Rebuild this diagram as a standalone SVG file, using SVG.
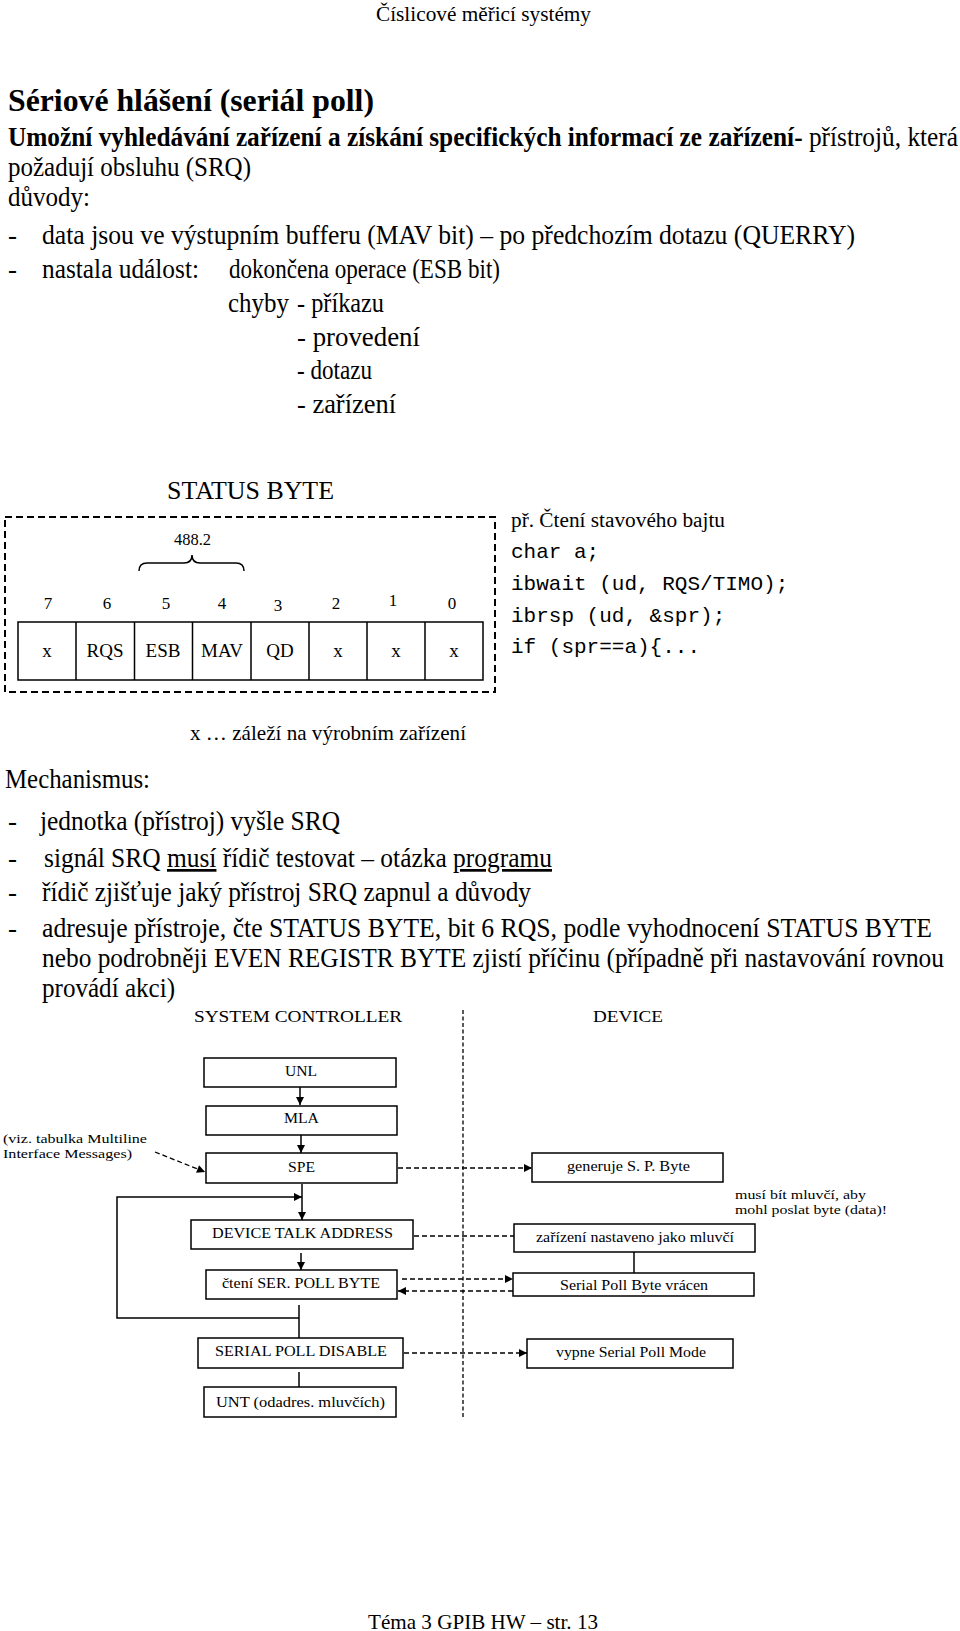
<svg xmlns="http://www.w3.org/2000/svg" width="960" height="1631" viewBox="0 0 960 1631">
<style>
  .t{font-family:"Liberation Serif","Times New Roman",serif;fill:#000}
  .b{font-size:27px}
  .code{font-family:"Liberation Mono","Courier New",monospace;font-size:21px;fill:#000}
  .box{fill:#fff;stroke:#000;stroke-width:1.5}
  .fl{font-family:"Liberation Serif","Times New Roman",serif;font-size:14.5px;fill:#000}
  .note{font-family:"Liberation Serif","Times New Roman",serif;font-size:13px;fill:#000}
  .ln{stroke:#000;stroke-width:1.5;fill:none}
  .dash{stroke:#000;stroke-width:1.3;fill:none;stroke-dasharray:5 3}
</style>
<defs>
  <marker id="ah" viewBox="0 0 10 10" refX="10" refY="5" markerWidth="9" markerHeight="8" markerUnits="userSpaceOnUse" orient="auto">
    <path d="M0,0 L10,5 L0,10 z" fill="#000"/>
  </marker>
</defs>
<rect width="960" height="1631" fill="#fff"/>

<g id="header">
  <text class="t" x="376" y="21" font-size="21" textLength="215" lengthAdjust="spacingAndGlyphs">Číslicové měřicí systémy</text>
</g>

<g id="intro">
  <text class="t" x="8" y="111" font-size="32" font-weight="bold" textLength="366" lengthAdjust="spacingAndGlyphs">Sériové hlášení (seriál poll)</text>
  <text class="t b" x="8" y="146" textLength="950" lengthAdjust="spacingAndGlyphs"><tspan font-weight="bold">Umožní vyhledávání zařízení a získání specifických informací ze zařízení-</tspan> přístrojů, která</text>
  <text class="t b" x="8" y="176" textLength="243" lengthAdjust="spacingAndGlyphs">požadují obsluhu (SRQ)</text>
  <text class="t b" x="8" y="206" textLength="82" lengthAdjust="spacingAndGlyphs">důvody:</text>
  <text class="t b" x="8" y="244">-</text>
  <text class="t b" x="42" y="244" textLength="813" lengthAdjust="spacingAndGlyphs">data jsou ve výstupním bufferu (MAV bit) – po předchozím dotazu (QUERRY)</text>
  <text class="t b" x="8" y="278">-</text>
  <text class="t b" x="42" y="278" textLength="157" lengthAdjust="spacingAndGlyphs">nastala událost:</text>
  <text class="t b" x="229" y="278" textLength="271" lengthAdjust="spacingAndGlyphs">dokončena operace (ESB bit)</text>
  <text class="t b" x="228" y="312" textLength="61" lengthAdjust="spacingAndGlyphs">chyby</text>
  <text class="t b" x="297" y="312" textLength="87" lengthAdjust="spacingAndGlyphs">- příkazu</text>
  <text class="t b" x="297" y="346" textLength="123" lengthAdjust="spacingAndGlyphs">- provedení</text>
  <text class="t b" x="297" y="379" textLength="75" lengthAdjust="spacingAndGlyphs">- dotazu</text>
  <text class="t b" x="297" y="413" textLength="99" lengthAdjust="spacingAndGlyphs">- zařízení</text>
</g>

<g id="status-byte">
  <text class="t" x="167" y="499" font-size="25" textLength="167" lengthAdjust="spacingAndGlyphs">STATUS BYTE</text>
  <rect x="5" y="517" width="490" height="175" fill="none" stroke="#000" stroke-width="2" stroke-dasharray="7 4"/>
  <text class="t" x="174" y="545" font-size="16" textLength="37" lengthAdjust="spacingAndGlyphs">488.2</text>
  <path class="ln" d="M139,571 Q139,563 147,563 L184,563 Q192,563 192,555 Q192,563 200,563 L236,563 Q244,563 244,571"/>
  <g class="t" font-size="17" text-anchor="middle">
    <text x="48" y="609">7</text>
    <text x="107" y="609">6</text>
    <text x="166" y="609">5</text>
    <text x="222" y="609">4</text>
    <text x="278" y="611">3</text>
    <text x="336" y="609">2</text>
    <text x="393" y="606">1</text>
    <text x="452" y="609">0</text>
  </g>
  <rect x="18" y="622" width="465" height="58" fill="none" stroke="#000" stroke-width="1.5"/>
  <path class="ln" d="M76,622V680M134.5,622V680M192.5,622V680M251,622V680M309,622V680M367,622V680M425,622V680"/>
  <g class="t" font-size="19" text-anchor="middle">
    <text x="47" y="657">x</text>
    <text x="105" y="657">RQS</text>
    <text x="163" y="657">ESB</text>
    <text x="222" y="657">MAV</text>
    <text x="280" y="657">QD</text>
    <text x="338" y="657">x</text>
    <text x="396" y="657">x</text>
    <text x="454" y="657">x</text>
  </g>
  <text class="t" x="190" y="740" font-size="22" textLength="276" lengthAdjust="spacingAndGlyphs">x … záleží na výrobním zařízení</text>
</g>

<g id="code-example">
  <text class="t" x="511" y="527" font-size="20" textLength="214" lengthAdjust="spacingAndGlyphs">př. Čtení stavového bajtu</text>
  <text class="code" x="511" y="558">char a;</text>
  <text class="code" x="511" y="590">ibwait (ud, RQS/TIMO);</text>
  <text class="code" x="511" y="622">ibrsp (ud, &amp;spr);</text>
  <text class="code" x="511" y="653">if (spr==a){...</text>
</g>

<g id="mechanism">
  <text class="t b" x="5" y="788" textLength="145" lengthAdjust="spacingAndGlyphs">Mechanismus:</text>
  <text class="t b" x="8" y="830">-</text>
  <text class="t b" x="40" y="830" textLength="300" lengthAdjust="spacingAndGlyphs">jednotka (přístroj) vyšle SRQ</text>
  <text class="t b" x="8" y="867">-</text>
  <text class="t b" x="44" y="867" textLength="508" lengthAdjust="spacingAndGlyphs">signál SRQ <tspan text-decoration="underline">musí</tspan> řídič testovat – otázka <tspan text-decoration="underline">programu</tspan></text>
  <text class="t b" x="8" y="901">-</text>
  <text class="t b" x="42" y="901" textLength="489" lengthAdjust="spacingAndGlyphs">řídič zjišťuje jaký přístroj SRQ zapnul a důvody</text>
  <text class="t b" x="8" y="937">-</text>
  <text class="t b" x="42" y="937" textLength="890" lengthAdjust="spacingAndGlyphs">adresuje přístroje, čte STATUS BYTE, bit 6 RQS, podle vyhodnocení STATUS BYTE</text>
  <text class="t b" x="42" y="967" textLength="902" lengthAdjust="spacingAndGlyphs">nebo podrobněji EVEN REGISTR BYTE zjistí příčinu (případně při nastavování rovnou</text>
  <text class="t b" x="42" y="997" textLength="133" lengthAdjust="spacingAndGlyphs">provádí akci)</text>
</g>

<g id="lane-headers">
  <text class="t" x="194" y="1022" font-size="16" textLength="208" lengthAdjust="spacingAndGlyphs">SYSTEM CONTROLLER</text>
  <text class="t" x="593" y="1022" font-size="16" textLength="70" lengthAdjust="spacingAndGlyphs">DEVICE</text>
</g>

<g id="connectors">
  <line x1="463" y1="1010" x2="463" y2="1418" stroke="#000" stroke-width="1.3" stroke-dasharray="4 2.5"/>
  <line class="ln" x1="300" y1="1087" x2="300" y2="1105" marker-end="url(#ah)"/>
  <line class="ln" x1="301" y1="1135" x2="301" y2="1153" marker-end="url(#ah)"/>
  <line class="ln" x1="302" y1="1184" x2="302" y2="1220" marker-end="url(#ah)"/>
  <polyline class="ln" points="299,1318 117,1318 117,1197 302,1197" marker-end="url(#ah)"/>
  <line class="ln" x1="301" y1="1253" x2="301" y2="1270" marker-end="url(#ah)"/>
  <line class="ln" x1="299" y1="1305" x2="299" y2="1338"/>
  <line class="ln" x1="299" y1="1372" x2="299" y2="1387"/>
  <line class="ln" x1="634" y1="1252" x2="634" y2="1273"/>
  <line class="dash" x1="155" y1="1152" x2="205" y2="1172" marker-end="url(#ah)"/>
  <line class="dash" x1="398" y1="1168" x2="532" y2="1168" marker-end="url(#ah)"/>
  <line class="dash" x1="414" y1="1236" x2="514" y2="1236"/>
  <line class="dash" x1="402" y1="1279" x2="513" y2="1279" marker-end="url(#ah)"/>
  <line class="dash" x1="513" y1="1291" x2="398" y2="1291" marker-end="url(#ah)"/>
  <line class="dash" x1="404" y1="1353" x2="527" y2="1353" marker-end="url(#ah)"/>
</g>

<g id="note-viz">
  <text class="note" x="3" y="1143" textLength="144" lengthAdjust="spacingAndGlyphs">(viz. tabulka Multiline</text>
  <text class="note" x="3" y="1158" textLength="129" lengthAdjust="spacingAndGlyphs">Interface Messages)</text>
</g>
<g id="node-unl">
  <rect class="box" x="204" y="1058" width="192" height="29"/>
  <text class="fl" x="285" y="1076" textLength="32" lengthAdjust="spacingAndGlyphs">UNL</text>
</g>
<g id="node-mla">
  <rect class="box" x="206" y="1106" width="191" height="29"/>
  <text class="fl" x="284" y="1123" textLength="35" lengthAdjust="spacingAndGlyphs">MLA</text>
</g>
<g id="node-spe">
  <rect class="box" x="206" y="1153" width="191" height="30"/>
  <text class="fl" x="288" y="1172" textLength="27" lengthAdjust="spacingAndGlyphs">SPE</text>
</g>
<g id="node-dta">
  <rect class="box" x="191" y="1220" width="222" height="29"/>
  <text class="fl" x="212" y="1238" textLength="181" lengthAdjust="spacingAndGlyphs">DEVICE TALK ADDRESS</text>
</g>
<g id="node-cteni">
  <rect class="box" x="206" y="1270" width="191" height="29"/>
  <text class="fl" x="222" y="1288" textLength="158" lengthAdjust="spacingAndGlyphs">čtení SER. POLL BYTE</text>
</g>
<g id="node-spd">
  <rect class="box" x="198" y="1338" width="205" height="30"/>
  <text class="fl" x="215" y="1356" textLength="172" lengthAdjust="spacingAndGlyphs">SERIAL POLL DISABLE</text>
</g>
<g id="node-unt">
  <rect class="box" x="204" y="1387" width="192" height="30"/>
  <text class="fl" x="216" y="1407" textLength="169" lengthAdjust="spacingAndGlyphs">UNT (odadres. mluvčích)</text>
</g>
<g id="node-generuje">
  <rect class="box" x="532" y="1153" width="191" height="29"/>
  <text class="fl" x="567" y="1171" textLength="123" lengthAdjust="spacingAndGlyphs">generuje S. P. Byte</text>
</g>
<g id="note-musi">
  <text class="note" x="735" y="1199" textLength="131" lengthAdjust="spacingAndGlyphs">musí bít mluvčí, aby</text>
  <text class="note" x="735" y="1214" textLength="152" lengthAdjust="spacingAndGlyphs">mohl poslat byte (data)!</text>
</g>
<g id="node-zarizeni">
  <rect class="box" x="514" y="1224" width="241" height="28"/>
  <text class="fl" x="536" y="1242" textLength="198" lengthAdjust="spacingAndGlyphs">zařízení nastaveno jako mluvčí</text>
</g>
<g id="node-spb">
  <rect class="box" x="513" y="1273" width="241" height="23"/>
  <text class="fl" x="560" y="1290" textLength="148" lengthAdjust="spacingAndGlyphs">Serial Poll Byte vrácen</text>
</g>
<g id="node-vypne">
  <rect class="box" x="527" y="1339" width="206" height="29"/>
  <text class="fl" x="556" y="1357" textLength="150" lengthAdjust="spacingAndGlyphs">vypne Serial Poll Mode</text>
</g>

<g id="footer">
  <text class="t" x="368" y="1629" font-size="22" textLength="230" lengthAdjust="spacingAndGlyphs">Téma 3 GPIB HW – str. 13</text>
</g>
</svg>
